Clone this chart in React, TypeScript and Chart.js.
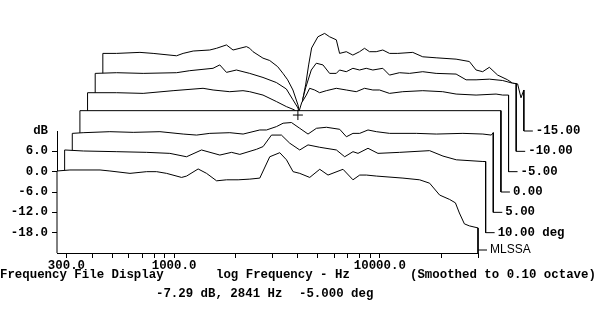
import React, { useEffect, useRef } from 'react';
import { Chart, registerables } from 'chart.js';

Chart.register(...registerables);

// ---- Data (frequency in Hz, level in dB, normalized to on-axis) ----
// front trace (+15 deg, its label slot carries the "MLSSA" mark)
const F_P15 = [270, 312, 437, 488, 611, 736, 823, 920, 1088, 1151, 1310, 1439, 1610, 1800, 2049, 2335, 2611, 2919, 3265, 3519, 3789, 4083, 4566, 5106, 5602, 6625, 7405, 7986, 8605, 9625, 12955, 15607, 17460, 19530, 21840, 23300, 24360, 25760, 27240, 30000];
const DB_P15 = [0.2, 0.5, 0.5, 0.2, -0.5, 0, 0, -0.5, -1.7, -1.3, 0.8, -0.5, -2.7, -2.4, -2.4, -2.2, -1.9, 4.4, 5.6, 3.5, 0, -0.5, -1.7, 0.7, -1.0, 0.7, -2.4, -1.0, -1.0, -1.3, -1.9, -2.4, -3.4, -6.9, -8.2, -9.2, -12.2, -15.4, -16.0, -16.6];

const F_P10 = [270, 333, 484, 676, 876, 1056, 1249, 1533, 1747, 1917, 2310, 2487, 2732, 3054, 3351, 3748, 4112, 4687, 5649, 6198, 6801, 7193, 8044, 8992, 11464, 16024, 18610, 21610, 29090, 30000];
const DB_P10 = [0.4, 0.1, -0.1, -0.3, -0.6, -1.6, 0.4, -1.1, -0.3, -0.9, 0.6, 1.4, 4.8, 4.8, 2.4, 0.4, 1.9, 1.2, 0.4, -1.6, -0.1, -0.6, 0.9, -0.6, -0.3, 0.2, -1.4, -2.5, -3.0, -3.0];

const F_P5 = [270, 305, 411, 534, 720, 934, 1085, 1258, 1574, 1826, 2200, 2373, 2652, 2857, 3136, 3441, 3775, 4149, 4638, 5382, 5800, 6243, 6730, 7384, 8113, 9406, 12679, 15860, 21350, 26700, 29330, 30000];
const DB_P5 = [-0.7, -0.5, -0.2, -0.4, -0.2, -0.9, -1.2, -0.7, -0.5, -0.9, 0.3, 0.3, 1.3, 2.3, 2.5, 0.8, -0.9, 0.8, 1.1, 0.5, -1.7, -0.7, -0.7, 0.3, -0.2, -0.7, -0.7, -0.9, -0.7, -0.9, -1.2, -0.5];

const F_0 = [270, 30000];
const DB_0 = [0, 0];

const F_M5 = [270, 374, 503, 703, 983, 1100, 1325, 1537, 1657, 1923, 2233, 2497, 2740, 2841, 2962, 3122, 3240, 3427, 3623, 3904, 4366, 4882, 5458, 5989, 6570, 7080, 7919, 9185, 11488, 14362, 16686, 20863, 26090, 28090, 30000];
const DB_M5 = [-0.7, -0.7, -0.9, -0.1, 0.6, 0.1, -0.4, -0.1, -0.4, -1.4, -3.3, -4.8, -5.8, -7.29, -3.7, -1.4, 0.6, 0.1, -0.7, -0.1, 0.6, 0.1, -0.4, 0.6, 0.1, 0.1, -0.9, -0.4, -0.1, -0.4, -1.1, -1.4, -1.1, -1.4, -1.4];

const F_M10 = [270, 343, 462, 671, 778, 1009, 1088, 1173, 1311, 1521, 1765, 2050, 2292, 2468, 2610, 2675, 2751, 2843, 3030, 3204, 3452, 3719, 4008, 4158, 4482, 4826, 5200, 5603, 6034, 6745, 7268, 8128, 9090, 10546, 12250, 15315, 17128, 19150, 22220, 25780, 28830, 30000];
const DB_M10 = [-1.0, -0.8, -1.0, -0.8, -0.2, 0.5, 1.5, -0.7, 0, -1.0, -2.2, -3.7, -5.6, -8.8, -11.2, -14, -8.8, -5.3, 0, 2.0, 1.5, -1.0, -1.0, 0, -0.5, 0.5, 0, 0.5, 0, 0.5, -1.5, -0.8, -1.0, -0.5, -1.0, -1.2, -2.9, -2.9, -2.7, -3.1, -3.9, -4.0];

const F_M15 = [270, 315, 409, 474, 616, 663, 742, 893, 963, 1077, 1159, 1346, 1397, 1449, 1620, 1747, 1909, 2026, 2135, 2265, 2396, 2469, 2525, 2611, 2701, 2792, 2995, 3229, 3415, 3681, 3818, 4116, 4429, 4774, 5047, 5337, 5752, 6193, 6675, 7324, 8658, 9680, 11248, 14060, 16313, 17585, 18928, 20393, 22384, 25024, 26470, 27980, 29060, 30000];
const DB_M15 = [-1.1, -1.1, -0.8, -1.1, -1.8, -1.1, -0.4, -0.1, 0.4, 1.4, -0.1, 0.9, 0.4, -0.6, -2.5, -3.2, -5.0, -7.0, -8.9, -11.9, -16.3, -20, -14.8, -10.4, -4.5, 0.5, 3.8, 4.8, 3.8, 2.9, -1.1, -0.6, -1.6, -0.6, 0.4, -0.6, -0.6, -0.1, -1.1, -1.1, -0.8, -2.1, -2.4, -2.8, -3.5, -6.0, -6.5, -5.2, -7.5, -8.9, -9.9, -10.1, -14.2, -11.9];

// front to back
const TRACE_FREQS = [F_P15, F_P10, F_P5, F_0, F_M5, F_M10, F_M15];
const TRACE_DBS = [DB_P15, DB_P10, DB_P5, DB_0, DB_M5, DB_M10, DB_M15];
const TRACE_LABELS = ['MLSSA', '10.00 deg', '5.00', '0.00', '-5.00', '-10.00', '-15.00'];

// cursor readout
const CURSOR_TRACE = 4;
const CURSOR_HZ = 2841;
const CURSOR_DB = -7.29;
const CURSOR_DEG = -5.0;

// axes
const X_MIN = 270;
const X_MAX = 30000;
const X_TICKS = [300, 400, 500, 600, 700, 800, 900, 1000, 2000, 3000, 4000, 5000, 6000, 7000, 8000, 9000, 10000, 20000, 30000];
const X_TICK_TEXT: Record<number, string> = { 300: '300.0', 1000: '1000.0', 10000: '10000.0' };
const Y_MIN = -24;
const Y_MAX = 12;
const Y_TICKS = [-24, -18, -12, -6, 0, 6, 12];
const Y_TICK_TEXT = ['', '-18.0', '-12.0', '-6.0', '0.0', '6.0', 'dB'];

// waterfall offsets: each trace further back is raised 6 dB and shifted right
const STEP_DB = 6;
const STEP_FREQ = Math.pow(10, 7.65 / 206.1);

const MONO = '"Liberation Mono", "DejaVu Sans Mono", monospace';
const FONT_PX = 12.4;
const CURSOR_INDEX = TRACE_FREQS.length;

const occlusion = {
  id: 'occlusion',
  beforeDatasetDraw(chart: any, args: any) {
    const meta = args.meta;
    if (meta.type !== 'line') return;
    const pts = meta.data;
    if (!pts.length) return;
    const ctx = chart.ctx;
    ctx.save();
    ctx.beginPath();
    pts.forEach((p: any, k: number) => (k ? ctx.lineTo(p.x, p.y) : ctx.moveTo(p.x, p.y)));
    ctx.closePath();
    ctx.fillStyle = '#ffffff';
    ctx.fill();
    ctx.restore();
  },
};

const traceLabels = {
  id: 'traceLabels',
  afterDatasetsDraw(chart: any) {
    const ctx = chart.ctx;
    ctx.save();
    ctx.strokeStyle = '#000';
    ctx.fillStyle = '#000';
    ctx.lineWidth = 1;
    ctx.textBaseline = 'middle';
    TRACE_LABELS.forEach((label, i) => {
      const meta = chart.getDatasetMeta(i);
      const last = meta.data[meta.data.length - 1];
      if (!last) return;
      const y = i === 0 ? last.y - 3 : last.y;
      ctx.beginPath();
      ctx.moveTo(last.x, y);
      ctx.lineTo(last.x + 9, y);
      ctx.stroke();
      ctx.font = i === 0 ? '12px "Liberation Sans", sans-serif' : `bold ${FONT_PX}px ${MONO}`;
      ctx.fillText(label, last.x + 12, y);
    });
    // cursor cross (drawn here because it sits outside the plot area)
    const cm = chart.getDatasetMeta(CURSOR_INDEX);
    const c = cm && cm.data[0];
    if (c) {
      const r = 5;
      ctx.beginPath();
      ctx.moveTo(c.x - r, c.y);
      ctx.lineTo(c.x + r, c.y);
      ctx.moveTo(c.x, c.y - r);
      ctx.lineTo(c.x, c.y + r);
      ctx.stroke();
    }
    ctx.restore();
  },
};

const footer = {
  id: 'footer',
  afterDraw(chart: any) {
    const ctx = chart.ctx;
    ctx.save();
    ctx.fillStyle = '#000';
    ctx.textBaseline = 'alphabetic';
    ctx.font = `bold ${FONT_PX}px ${MONO}`;
    ctx.fillText('Frequency File Display', 0, 278);
    ctx.fillText('log Frequency - Hz', 216, 278);
    ctx.fillText('(Smoothed to 0.10 octave)', 410, 278);
    ctx.fillText(`${CURSOR_DB.toFixed(2)} dB, ${CURSOR_HZ} Hz`, 156, 297);
    ctx.fillText(`${CURSOR_DEG.toFixed(3)} deg`, 299, 297);
    ctx.restore();
  },
};

export default function App() {
  const ref = useRef<HTMLCanvasElement>(null);

  useEffect(() => {
    document.body.style.margin = '0';
    const canvas = ref.current;
    if (!canvas) return;

    const datasets: any[] = TRACE_FREQS.map((freqs, i) => {
      const shift = Math.pow(STEP_FREQ, i);
      const lift = STEP_DB * i;
      const floor = Y_MIN + lift;
      const dbs = TRACE_DBS[i];
      const pts = freqs.map((f, j) => ({ x: f * shift, y: dbs[j] + lift }));
      const data = [
        { x: freqs[0] * shift, y: floor },
        ...pts,
        { x: freqs[freqs.length - 1] * shift, y: floor },
      ];
      return {
        type: 'line',
        label: TRACE_LABELS[i],
        data,
        order: i,
        borderColor: '#000',
        borderWidth: 1,
        pointRadius: 0,
        pointHoverRadius: 0,
        tension: 0,
        fill: false,
        clip: false,
      };
    });

    datasets.push({
      type: 'scatter',
      label: 'cursor',
      data: [
        {
          x: CURSOR_HZ * Math.pow(STEP_FREQ, CURSOR_TRACE),
          y: CURSOR_DB + STEP_DB * CURSOR_TRACE,
        },
      ],
      order: -1,
      pointStyle: 'cross',
      pointRadius: 5,
      borderWidth: 1,
      borderColor: '#000',
      clip: false,
    });

    const tickFont = { family: MONO, size: FONT_PX, weight: 'bold' as const };

    const chart = new Chart(canvas, {
      type: 'line',
      data: { datasets },
      options: {
        animation: false,
        responsive: false,
        devicePixelRatio: 1,
        events: [],
        layout: { padding: { left: 0, top: 131, right: 122, bottom: 53 } },
        plugins: {
          legend: { display: false },
          tooltip: { enabled: false },
        },
        scales: {
          x: {
            type: 'logarithmic',
            position: 'bottom',
            bounds: 'data',
            z: 1,
            afterDataLimits: (scale: any) => {
              scale.min = X_MIN;
              scale.max = X_MAX;
            },
            afterBuildTicks: (scale: any) => {
              scale.ticks = X_TICKS.map((v) => ({ value: v }));
            },
            afterFit: (scale: any) => {
              scale.height = 22;
            },
            border: { display: true, color: '#000', width: 1 },
            grid: {
              display: true,
              drawOnChartArea: false,
              drawTicks: true,
              tickLength: 5,
              color: '#000',
              tickColor: '#000',
            },
            ticks: {
              autoSkip: false,
              maxRotation: 0,
              minRotation: 0,
              padding: 0,
              color: '#000',
              font: tickFont,
              callback: (v: any) => X_TICK_TEXT[Number(v)] ?? '',
            },
          },
          y: {
            type: 'linear',
            position: 'left',
            min: Y_MIN,
            max: Y_MAX,
            z: 1,
            afterBuildTicks: (scale: any) => {
              scale.ticks = Y_TICKS.map((v) => ({ value: v }));
            },
            afterFit: (scale: any) => {
              scale.width = 57;
            },
            border: { display: true, color: '#000', width: 1 },
            grid: {
              display: true,
              drawOnChartArea: false,
              drawTicks: true,
              tickLength: 5,
              color: '#000',
              tickColor: (c: any) =>
                c.tick && (c.tick.value === Y_MAX || c.tick.value === Y_MIN) ? 'rgba(0,0,0,0)' : '#000',
            },
            ticks: {
              padding: 4,
              color: '#000',
              font: tickFont,
              callback: (v: any) => {
                const k = Y_TICKS.indexOf(Number(v));
                return k >= 0 ? Y_TICK_TEXT[k] : '';
              },
            },
          },
        },
      } as any,
      plugins: [occlusion, traceLabels, footer],
    });

    return () => chart.destroy();
  }, []);

  return (
    <div style={{ position: 'relative', width: 600, height: 328, background: '#fff' }}>
      <canvas ref={ref} width={600} height={328} style={{ display: 'block', width: 600, height: 328 }} />
    </div>
  );
}
